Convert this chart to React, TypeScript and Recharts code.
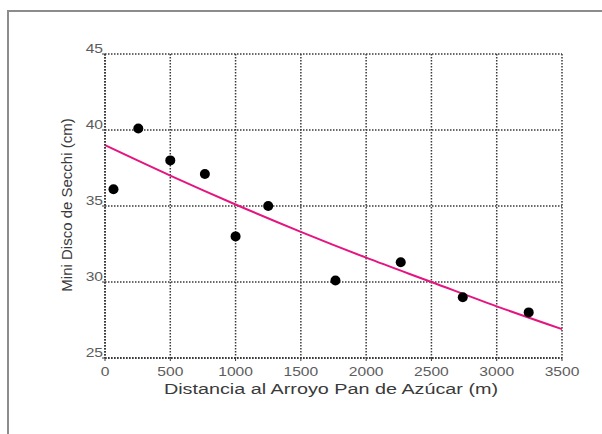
import React from "react";
import {
  ComposedChart,
  Scatter,
  Line,
  XAxis,
  YAxis,
  CartesianGrid,
} from "recharts";

// distancia (m) vs profundidad del mini disco de Secchi (cm)
const distances = [65, 255, 500, 765, 1000, 1250, 1765, 2265, 2740, 3245];
const secchi = [36.1, 40.1, 38.0, 37.1, 33.0, 35.0, 30.1, 31.3, 29.0, 28.0];

// curva de ajuste
const fitX = [0, 500, 1000, 1500, 2000, 2500, 3000, 3500];
const fitY = [39.0, 37.0, 35.1, 33.3, 31.6, 30.0, 28.4, 26.9];

const xTicks = [0, 500, 1000, 1500, 2000, 2500, 3000, 3500];
const yTicks = [25, 30, 35, 40, 45];

const points = distances.map((d, i) => ({ x: d, y: secchi[i] }));
const fit = fitX.map((d, i) => ({ x: d, y: fitY[i] }));

const FONT = "'Liberation Sans', Arial, sans-serif";
const STRETCH = 1.25;
const GRID = "#3a3a3a";

const YTick = (props: any) => {
  const { y, payload } = props;
  return (
    <text
      transform={`translate(103,${y - 1}) scale(${STRETCH},1)`}
      textAnchor="end"
      fontFamily={FONT}
      fontSize={12.5}
      fill="#5c5c5c"
    >
      {payload.value}
    </text>
  );
};

const XTick = (props: any) => {
  const { x, payload } = props;
  return (
    <text
      transform={`translate(${x},376) scale(${STRETCH},1)`}
      textAnchor="middle"
      fontFamily={FONT}
      fontSize={12.5}
      fill="#5c5c5c"
    >
      {payload.value}
    </text>
  );
};

const XTitle = () => (
  <text
    transform="translate(331,394) scale(1.32,1)"
    textAnchor="middle"
    fontFamily={FONT}
    fontSize={15}
    fill="#3a3a3a"
  >
    Distancia al Arroyo Pan de Azúcar (m)
  </text>
);

const YTitle = () => (
  <text
    transform="translate(72,205) rotate(-90)"
    textAnchor="middle"
    fontFamily={FONT}
    fontSize={15}
    fill="#3a3a3a"
  >
    Mini Disco de Secchi (cm)
  </text>
);

const Dot = (props: any) => (
  <circle cx={props.cx} cy={props.cy} r={5} fill="#000" />
);

export default function App() {
  return (
    <div
      style={{
        position: "absolute",
        left: 0,
        top: 0,
        width: 602,
        height: 434,
        background: "#fff",
        overflow: "hidden",
      }}
    >
      <div
        style={{
          position: "absolute",
          left: 7,
          top: 10,
          width: 620,
          height: 440,
          borderLeft: "2px solid #8c8c8c",
          borderTop: "2px solid #8c8c8c",
        }}
      />
      <div style={{ position: "absolute", left: 0, top: 0 }}>
        <ComposedChart
          width={602}
          height={434}
          margin={{ top: 54, right: 40, left: 0, bottom: 0 }}
        >
          <CartesianGrid
            stroke={GRID}
            strokeWidth={1.5}
            strokeDasharray="1.5 1.5"
          />
          <XAxis
            type="number"
            dataKey="x"
            domain={[0, 3500]}
            ticks={xTicks}
            interval={0}
            height={76}
            tick={<XTick />}
            tickSize={3}
            tickLine={{ stroke: GRID }}
            axisLine={{ stroke: GRID, strokeWidth: 2, strokeDasharray: "1.5 1.5" }}
            label={{ content: () => <XTitle /> }}
          />
          <YAxis
            type="number"
            dataKey="y"
            domain={[25, 45]}
            ticks={yTicks}
            interval={0}
            width={105}
            tick={<YTick />}
            tickSize={3}
            tickLine={{ stroke: GRID }}
            axisLine={{ stroke: GRID, strokeWidth: 2, strokeDasharray: "1.5 1.5" }}
            label={{ content: () => <YTitle /> }}
          />
          <Line
            data={fit}
            dataKey="y"
            type="monotone"
            stroke="#e5157f"
            strokeWidth={2}
            dot={false}
            isAnimationActive={false}
          />
          <Scatter
            data={points}
            dataKey="y"
            shape={<Dot />}
            isAnimationActive={false}
          />
        </ComposedChart>
      </div>
    </div>
  );
}
